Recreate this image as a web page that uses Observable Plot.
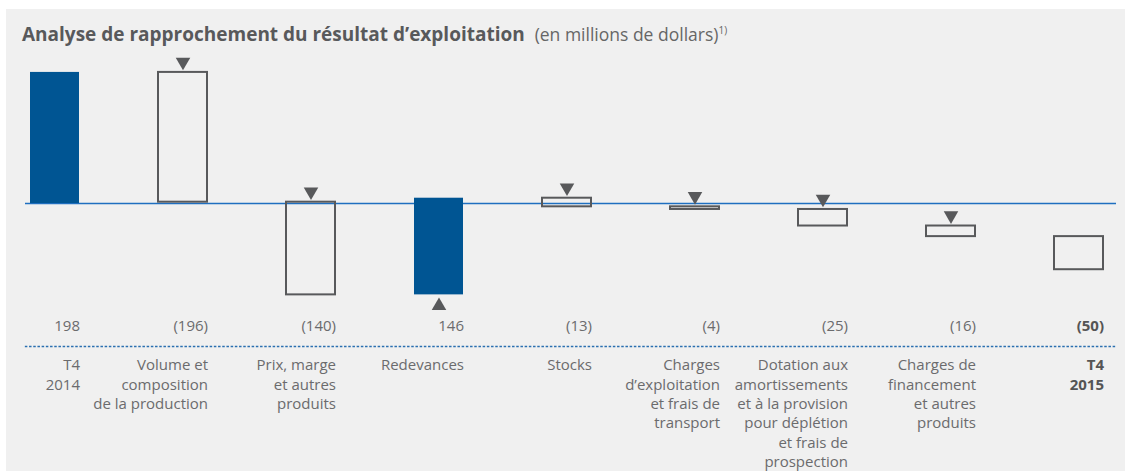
<!DOCTYPE html>
<html><head><meta charset="utf-8">
<script src="https://cdn.jsdelivr.net/npm/d3@7"></script>
<script src="https://cdn.jsdelivr.net/npm/@observablehq/plot@0.6"></script>
<style>
body{margin:0;background:#fff;font-family:"Open Sans",sans-serif;}
#bg{position:absolute;left:6px;top:9px;width:1119px;height:462px;background:#f0f0f0;}
#title{position:absolute;left:22px;top:19px;color:#58595b;font-size:19px;white-space:nowrap;line-height:23px;}
#title b{font-weight:700;}
#title span{font-size:17.5px;color:#666;}
#title sup{font-size:10px;}
#chart{position:absolute;left:0;top:50px;}
</style></head><body>
<div id="bg"></div>
<div id="title"><b>Analyse de rapprochement du résultat d’exploitation</b>&nbsp; <span>(en millions de dollars)<sup>1)</sup></span></div>
<div id="chart"></div>
<script>
const categories = ["T4 2014", "Volume", "Prix", "Redevances", "Stocks", "Charges", "Dotation", "Financement", "T4 2015"];
const values = [198, -196, -140, 146, -13, -4, -25, -16, -50];
const valueLabels = ["198", "(196)", "(140)", "146", "(13)", "(4)", "(25)", "(16)", "(50)"];
const categoryLabels = [
  "T4\n2014",
  "Volume et\ncomposition\nde la production",
  "Prix, marge\net autres\nproduits",
  "Redevances",
  "Stocks",
  "Charges\nd’exploitation\net frais de\ntransport",
  "Dotation aux\namortissements\net à la provision\npour déplétion\net frais de\nprospection",
  "Charges de\nfinancement\net autres\nproduits",
  "T4\n2015"
];
const arrowed = [false, true, true, true, true, true, true, true, false];

let cum = 0;
const rows = categories.map((c, i) => {
  const start = cum, end = cum + values[i];
  cum = end;
  return {cat: c, start, end, top: Math.max(start, end), bottom: Math.min(start, end),
    value: values[i], label: valueLabels[i], name: categoryLabels[i],
    last: i === categories.length - 1, arrow: arrowed[i]};
});

const grey = "#58595b";
const chart = Plot.plot({
  width: 1125, height: 421,
  marginLeft: 25, marginRight: 9, marginTop: 10, marginBottom: 171,
  style: {background: "transparent", fontFamily: "'Open Sans', sans-serif", fontSize: "15px", color: "#666"},
  x: {domain: categories, paddingInner: 0.614, paddingOuter: 0.0664, align: 0.294, axis: null},
  y: {domain: [-146.5, 216], axis: null},
  marks: [
    Plot.ruleY([0], {stroke: "#1f6fc0", strokeWidth: 1.4}),
    Plot.barY(rows, {filter: d => d.value > 0, x: "cat", y1: "start", y2: "end", fill: "#005593"}),
    Plot.barY(rows, {filter: d => d.value < 0, x: "cat", y1: "start", y2: "end", fill: "none", stroke: grey, strokeWidth: 2}),
    Plot.dot(rows, {filter: d => d.arrow && d.value < 0, x: "cat", y: "top", symbol: "triangle", rotate: 180, r: 5.4, fill: grey, stroke: "none", dy: -10.5}),
    Plot.dot(rows, {filter: d => d.arrow && d.value > 0, x: "cat", y: "bottom", symbol: "triangle", r: 5.4, fill: grey, stroke: "none", dy: 11}),
    Plot.text(rows, {filter: d => !d.last, x: "cat", text: "label", frameAnchor: "bottom", textAnchor: "end", dx: 25, dy: 30, fill: "#6b6b6d"}),
    Plot.text(rows, {filter: d => d.last, x: "cat", text: "label", frameAnchor: "bottom", textAnchor: "end", dx: 25, dy: 30, fill: "#555", fontWeight: "bold"}),
    Plot.frame({anchor: "bottom", dy: 46, stroke: "#2a6fb0", strokeDasharray: "1.2,3", strokeWidth: 1.3}),
    Plot.text(rows, {filter: d => !d.last, x: "cat", text: "name", frameAnchor: "bottom", lineAnchor: "top", textAnchor: "end", dx: 25, dy: 56, lineHeight: 1.29, fill: "#6b6b6d"}),
    Plot.text(rows, {filter: d => d.last, x: "cat", text: "name", frameAnchor: "bottom", lineAnchor: "top", textAnchor: "end", dx: 25, dy: 56, lineHeight: 1.29, fill: "#555", fontWeight: "bold"})
  ]
});
document.getElementById("chart").appendChild(chart);
</script>
</body></html>
